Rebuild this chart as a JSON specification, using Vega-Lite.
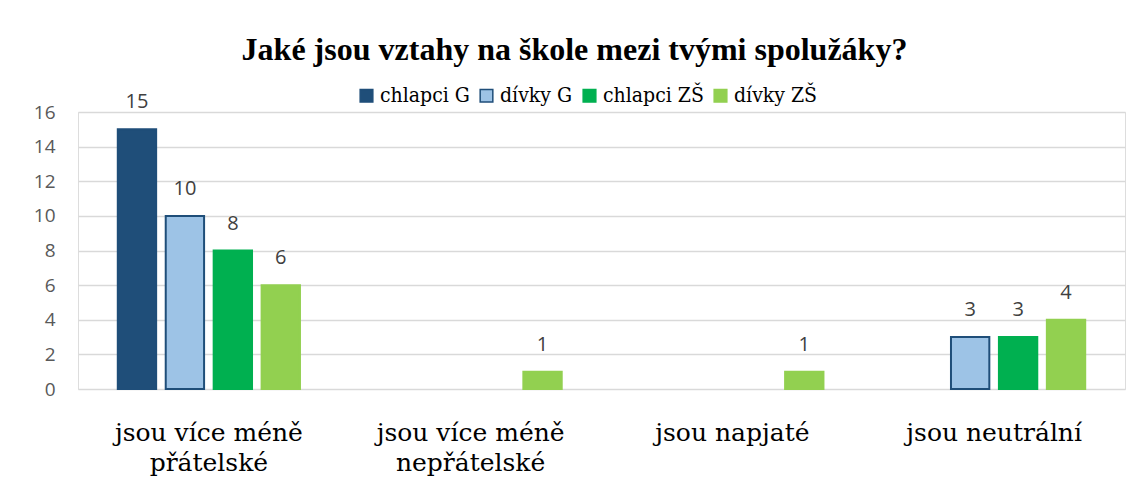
{
  "$schema": "https://vega.github.io/schema/vega-lite/v6.json",
  "width": 1047,
  "height": 277,
  "autosize": {"type": "none"},
  "padding": {"left": 78, "top": 112, "right": 7, "bottom": 106},
  "background": "white",
  "title": {
    "text": "Jaké jsou vztahy na škole mezi tvými spolužáky?",
    "font": "Liberation Serif",
    "fontSize": 32,
    "fontWeight": "bold",
    "color": "black",
    "anchor": "middle",
    "dx": -27,
    "offset": 18
  },
  "data": {
    "values": [
      {"kategorie": "jsou více méně přátelské", "skupina": "chlapci G", "pocet": 15},
      {"kategorie": "jsou více méně přátelské", "skupina": "dívky G", "pocet": 10},
      {"kategorie": "jsou více méně přátelské", "skupina": "chlapci ZŠ", "pocet": 8},
      {"kategorie": "jsou více méně přátelské", "skupina": "dívky ZŠ", "pocet": 6},
      {"kategorie": "jsou více méně nepřátelské", "skupina": "chlapci G", "pocet": 0},
      {"kategorie": "jsou více méně nepřátelské", "skupina": "dívky G", "pocet": 0},
      {"kategorie": "jsou více méně nepřátelské", "skupina": "chlapci ZŠ", "pocet": 0},
      {"kategorie": "jsou více méně nepřátelské", "skupina": "dívky ZŠ", "pocet": 1},
      {"kategorie": "jsou napjaté", "skupina": "chlapci G", "pocet": 0},
      {"kategorie": "jsou napjaté", "skupina": "dívky G", "pocet": 0},
      {"kategorie": "jsou napjaté", "skupina": "chlapci ZŠ", "pocet": 0},
      {"kategorie": "jsou napjaté", "skupina": "dívky ZŠ", "pocet": 1},
      {"kategorie": "jsou neutrální", "skupina": "chlapci G", "pocet": 0},
      {"kategorie": "jsou neutrální", "skupina": "dívky G", "pocet": 3},
      {"kategorie": "jsou neutrální", "skupina": "chlapci ZŠ", "pocet": 3},
      {"kategorie": "jsou neutrální", "skupina": "dívky ZŠ", "pocet": 4}
    ]
  },
  "encoding": {
    "x": {
      "field": "kategorie",
      "type": "nominal",
      "sort": ["jsou více méně přátelské", "jsou více méně nepřátelské", "jsou napjaté", "jsou neutrální"],
      "scale": {"paddingInner": 0, "paddingOuter": 0},
      "axis": {
        "title": null,
        "labelAngle": 0,
        "labelFont": "DejaVu Serif",
        "labelFontSize": 25,
        "labelColor": "black",
        "labelPadding": 31,
        "labelLineHeight": 30,
        "labelLimit": 0,
        "ticks": false,
        "domain": false,
        "labelExpr": "length(datum.label) > 20 ? [substring(datum.label, 0, 14), substring(datum.label, 15)] : datum.label"
      }
    },
    "xOffset": {
      "field": "skupina",
      "type": "nominal",
      "sort": ["chlapci G", "dívky G", "chlapci ZŠ", "dívky ZŠ"],
      "scale": {"paddingInner": 0.2, "paddingOuter": 0.83}
    },
    "y": {
      "field": "pocet",
      "type": "quantitative",
      "scale": {"domain": [0, 16]},
      "axis": {
        "title": null,
        "values": [0, 2, 4, 6, 8, 10, 12, 14, 16],
        "labelFont": "Open Sans",
        "labelFontSize": 19,
        "labelColor": "#595959",
        "labelPadding": 23,
        "ticks": false,
        "domain": false,
        "gridColor": "#d9d9d9",
        "gridWidth": 1.5
      }
    }
  },
  "layer": [
    {
      "transform": [{"filter": "datum.pocet > 0"}],
      "mark": {"type": "bar", "strokeWidth": 2},
      "encoding": {
        "color": {
          "field": "skupina",
          "type": "nominal",
          "sort": ["chlapci G", "dívky G", "chlapci ZŠ", "dívky ZŠ"],
          "scale": {
            "domain": ["chlapci G", "dívky G", "chlapci ZŠ", "dívky ZŠ"],
            "range": ["#1F4E79", "#9DC3E6", "#00B050", "#92D050"]
          },
          "legend": {
            "orient": "none",
            "legendX": 278,
            "legendY": -27,
            "direction": "horizontal",
            "title": null,
            "labelFont": "DejaVu Serif Condensed",
            "labelFontSize": 21,
            "labelColor": "black",
            "symbolType": "square",
            "symbolSize": 160,
            "symbolStrokeWidth": 1.5,
            "columnPadding": 6,
            "labelOffset": 3
          }
        },
        "stroke": {
          "field": "skupina",
          "type": "nominal",
          "sort": ["chlapci G", "dívky G", "chlapci ZŠ", "dívky ZŠ"],
          "scale": {
            "domain": ["chlapci G", "dívky G", "chlapci ZŠ", "dívky ZŠ"],
            "range": ["#1F4E79", "#1F4E79", "#00B050", "#92D050"]
          },
          "legend": null
        }
      }
    },
    {
      "transform": [{"filter": "datum.pocet > 0"}],
      "mark": {
        "type": "text",
        "baseline": "middle",
        "dy": -27,
        "font": "Open Sans",
        "fontSize": 20,
        "color": "#404040"
      },
      "encoding": {
        "text": {"field": "pocet", "type": "quantitative"}
      }
    }
  ]
}
